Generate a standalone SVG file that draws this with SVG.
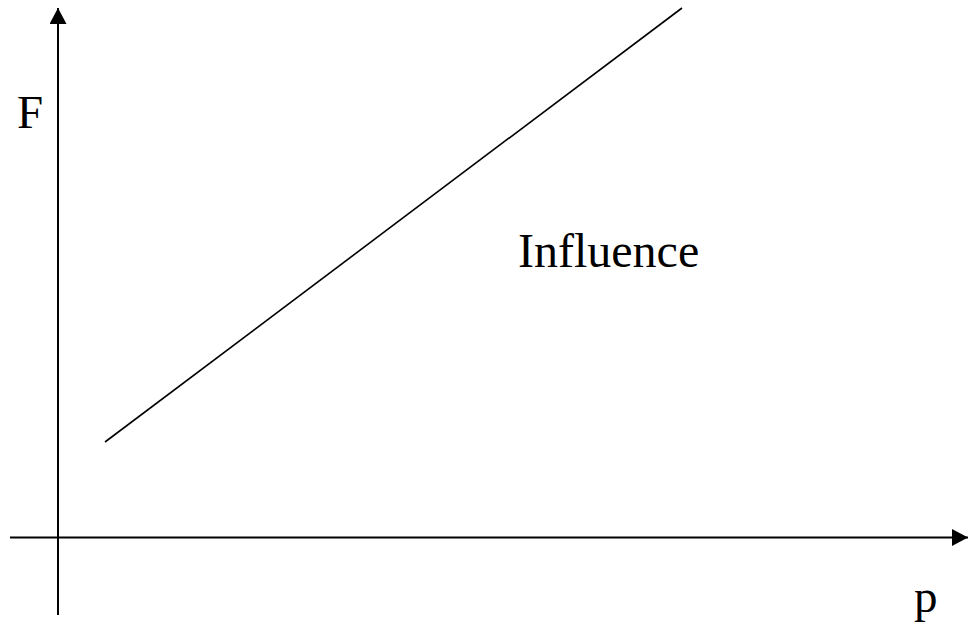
<svg xmlns="http://www.w3.org/2000/svg" width="968" height="626" viewBox="0 0 968 626">
<defs>
<style>
.ax{stroke:#000;stroke-width:2;fill:none}
.ln{stroke:#000;stroke-width:1.6;fill:none}
.t{font-family:"Liberation Serif","Times New Roman",serif;font-size:47px;fill:#000}
</style>
<marker id="ah" markerWidth="16" markerHeight="17" refX="16" refY="8.5" orient="auto" markerUnits="userSpaceOnUse">
<path d="M0,0 L16,8.5 L0,17 Z" fill="#000"/>
</marker>
</defs>
<g id="connectors">
<line class="ax" x1="58" y1="615" x2="58" y2="8" marker-end="url(#ah)"/>
<line class="ax" x1="10" y1="537.5" x2="968" y2="537.5" marker-end="url(#ah)"/>
<line class="ln" x1="105" y1="442" x2="682" y2="8"/>
</g>
<g id="label-F"><text class="t" x="17" y="128">F</text></g>
<g id="label-p"><text class="t" x="914" y="612">p</text></g>
<g id="label-influence"><text class="t" x="518" y="267" style="font-size:48px">Influence</text></g>
</svg>
